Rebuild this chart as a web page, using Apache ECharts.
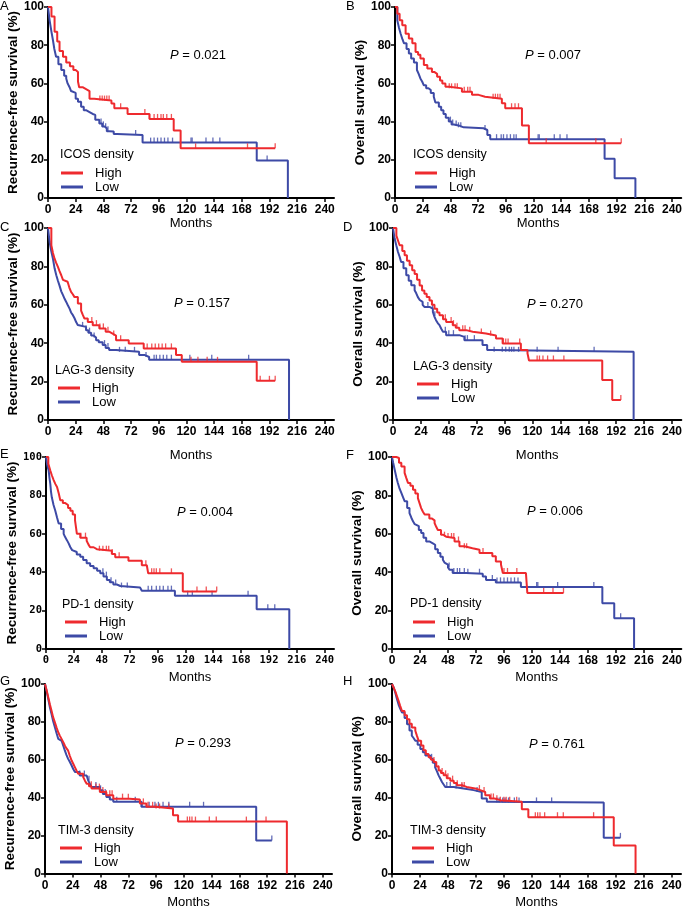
<!DOCTYPE html>
<html><head><meta charset="utf-8">
<script src="https://cdn.jsdelivr.net/npm/echarts@6/dist/echarts.min.js"></script>
<style>html,body{margin:0;padding:0;background:#fff}#c{width:685px;height:910px}</style>
</head><body><div id="c"></div>
<script>
// ---------- DATA ----------
const xTicks = [0, 24, 48, 72, 96, 120, 144, 168, 192, 216, 240];
const yTicks = [0, 20, 40, 60, 80, 100];
const panelLetters = ['A', 'B', 'C', 'D', 'E', 'F', 'G', 'H'];
const markers = ['ICOS', 'ICOS', 'LAG-3', 'LAG-3', 'PD-1', 'PD-1', 'TIM-3', 'TIM-3'];
const yTitles = ['Recurrence-free survival (%)', 'Overall survival (%)'];
const pValues = ['0.021', '0.007', '0.157', '0.270', '0.004', '0.006', '0.293', '0.761'];
const groups = ['High', 'Low'];

// Kaplan-Meier steps: [month, survival % after the step]
const A_high = [[0,100],[3,95],[5.7,87],[8,82],[10,77],[13,74],[15.8,71],[19,69],[22,67],[24,66],[26,61],[27,58],[30,57],[33,56],[36,52],[40,51],[55,49.5],[57.5,47],[69,44],[88,41.4],[109,35.3],[115,26],[197,26]];
const A_low = [[0,100],[1.4,93],[3,87],[4.3,82.6],[5.5,78],[7,74],[9,70],[11.5,67],[14,64],[15.8,62.6],[17,60],[18.7,58],[20,56],[21.6,55],[24,52],[26,50.4],[28.7,47.8],[31,46],[33,45],[36,44],[38.8,43.5],[41,41],[44.5,39],[47,37.5],[49,36.5],[51,35],[53,34.8],[57,33.5],[60,33],[82,29],[181,19.6],[208,0]];
const B_high = [[0,100],[2,96.5],[4,93],[6.3,90.4],[9.2,86],[12,83.5],[15,81],[17.8,76.5],[20,75],[22,73],[25,69.6],[28,67.8],[32,66],[34,65],[36.5,63.5],[39,61.5],[41,60],[43.7,58.3],[47,57.4],[58,55.6],[66.7,54],[72.4,53],[78,52],[92.6,49.6],[95.5,47],[110,38],[116,28.7],[196,28.7]];
const B_low = [[0,100],[2,93],[3.5,89],[4.9,86],[6.5,83],[7.8,81],[10,78],[12,75.6],[14,73],[16.4,71],[19,67],[20.5,65],[22,62.6],[23.5,61],[25,59],[27,57.5],[29,56.5],[31,55],[33.6,53],[35,50],[38,47.8],[40,46],[42,44],[44,42],[46.6,40],[49,38.5],[51,38],[55,37],[59.5,36.5],[76.7,35.6],[80,33],[82.5,30.8],[181.6,20.5],[190.3,10.4],[208.3,0]];
const C_high = [[0,100],[2.9,91],[4.3,87],[5.7,84],[7,82],[8.6,79.7],[10,77.5],[11.5,75.4],[13,73],[14.4,72],[17,71],[18.5,69],[20,66.7],[21.5,65.5],[23,64],[25.9,60.7],[28.7,57],[30,55],[31.6,52.8],[34.5,51],[38.8,49.4],[44.5,47.7],[50,46],[53,45],[56,44],[59,41.6],[70,39.9],[83,37.3],[111,33.8],[116,30.3],[181,20.4],[197,20.4]];
const C_low = [[0,100],[1.4,92.7],[2.8,88],[4.3,84],[5.7,79],[7.2,75.4],[8.6,72.5],[10,70],[11.5,67],[13,65],[14.5,63],[15.8,61.5],[17,60],[18.7,58],[20,56],[21.6,54.6],[23,53],[24.4,51],[25.8,49.5],[27.3,48.5],[33,46.8],[35,45.5],[37.4,44],[39.5,43],[41.7,41.6],[44,40.5],[47.4,39],[50,37.5],[53,36.4],[59,35.5],[79,33.8],[84,32.8],[87.7,31.4],[209,0]];
const D_high = [[0,100],[2.9,96],[4.3,93.5],[5.7,91],[8,88],[10,85.8],[12,83],[14.3,80.6],[16.5,78],[18.6,76],[20.7,73],[22.9,70],[25,67.5],[27,65.7],[29,64],[31.4,62.2],[33.5,60],[35.7,58],[38,56],[40,54.6],[43,52.5],[45.7,51],[51.4,49.4],[54,48],[57,46.8],[63,46],[68.6,45],[80,44],[88.6,42.4],[94.3,39.9],[110,36.4],[115.7,34.7],[117,31],[180,20.8],[188.6,10.4],[196,10.4]];
const D_low = [[0,100],[1.4,94.5],[2.8,91],[4.3,87.5],[5.7,85],[7,82.3],[9,79],[11.4,75.4],[13.5,72.5],[15.7,70.2],[18.6,67.6],[20,66],[21.4,64],[23,62.5],[24.3,61.5],[25.5,60],[27,58.9],[31.4,58],[34.3,56.3],[35.5,54],[37,52],[38.5,50.5],[40,49.4],[41.5,47.5],[43,46],[45.7,44.2],[57,43.3],[61.4,41.6],[77,39],[81,36.4],[85.7,35.5],[207,0]];
const E_high = [[0,100],[2,96.5],[3.7,93],[5,90.5],[6.6,88],[8,86],[9.5,84.4],[11,81],[12.3,77.5],[14.5,76],[16.6,75],[19,73.5],[21,72],[23,70],[25,67],[26.6,60],[29.5,58],[35,56.4],[36.5,54.5],[38,53],[41,52],[43.8,51.2],[56.7,49.5],[59.6,47.8],[71,46],[82.5,43.6],[86.8,42.6],[88,39.4],[117.8,30],[147,30]];
const E_low = [[0,100],[1,96],[2.3,93],[3,89],[3.7,86],[4.3,82],[5,79],[6.5,75],[8,72],[9.5,68.5],[10.9,65.4],[13,62.5],[15.2,60],[16.5,58.3],[18,56.7],[19.5,55],[21,53],[22.5,51.5],[23.8,50.5],[26.5,49.2],[29.5,48],[32,46.3],[35,44.6],[38,43.2],[41,42],[44,40.7],[46.7,39.4],[49.5,37.7],[52.4,36],[55,34.8],[58,33.6],[61,32.8],[64,32],[81,31.5],[82.5,30.4],[111,27.7],[181.4,20.7],[209.5,0]];
const F_high = [[0,100],[3.7,99.5],[6,97],[8,95],[10.8,91.7],[12.3,89],[13.7,86.5],[15.8,85],[18,83],[20,81],[22.2,78.6],[23.6,76],[25,73.4],[26.5,71.5],[28,70],[32,68],[34,67],[36.5,65.6],[38,63.5],[39.3,62],[42,59.5],[44,58.5],[46.4,57.8],[53.6,56],[57.8,53.5],[62,52.5],[69,51.7],[75,50],[86,48.3],[89,45.6],[93.4,44],[95,39.6],[114.8,39.2],[116,29.2],[147,29.2]];
const F_low = [[0,100],[1,97],[2.3,93.4],[3.7,89.5],[5,86.5],[6.5,83.5],[8,81.3],[9.5,79],[10.8,77],[13,73.5],[15,70.8],[16.5,68.5],[18,66.5],[19.5,65],[20.8,64],[23,62],[25,60.4],[27,58],[29.3,56],[32,55],[35,54.3],[37,52],[39.3,50],[41.5,48],[43.6,46.5],[45,45],[46.4,44],[48,42.5],[49.3,41.3],[52,39.6],[63.5,39.2],[77.8,37.8],[80.6,36],[89,34.7],[110.5,32.3],[180.3,23.8],[190.5,16],[207.5,0]];
const G_high = [[0,100],[1.5,96.5],[2.9,92.7],[4.3,89],[5.7,85.7],[7,82.5],[8.6,79.6],[10,77],[11.5,74.4],[13,72.5],[14.4,70.9],[16,69],[17.2,67.4],[18.6,66],[20,64.8],[21.5,62],[23,59.6],[24.5,57.8],[25.9,56],[27.3,54.2],[28.7,52.6],[33,50.9],[34.5,49],[36,47.4],[38,46],[40.2,44.8],[47.4,43],[53,41.3],[59,39.5],[73,39],[82,37],[87.6,35.2],[95,34.3],[110.6,30.8],[115,27.4],[209,0]];
const G_low = [[0,100],[1.5,96],[2.9,91.8],[4.3,87.5],[5.7,84],[7,80.5],[8.6,77],[10,74],[11.5,71],[13,70],[14.4,69],[16,67],[17.2,64.8],[18.6,62.5],[20,60.5],[21.5,58.8],[23,57],[24.5,55],[25.9,53.5],[30,51.7],[36,50.9],[37.4,49],[38.8,47.3],[40.2,45.6],[47.4,43.9],[50,42],[53,40.4],[56,39],[59,37.8],[83.3,35.2],[182.5,17.4],[196,17.4]];
const H_high = [[0,100],[1.5,98],[2.9,96],[4.3,93.5],[5.7,91],[7,88.5],[8.6,85.7],[10.8,83.5],[12.9,81.4],[15,79],[17,77],[20,75.3],[21.5,72.5],[22.9,70],[25,67.5],[27,65],[29,63],[31.4,61.4],[33.5,60],[35.7,58.8],[38,56.5],[40,54.4],[42,53],[44.3,51.8],[47,50.3],[50,49],[53,47.8],[55.7,46.6],[60,45.7],[64,44.9],[71.4,44],[75.7,43],[80,41.3],[84,39.6],[88,38.7],[93,37.9],[111.4,33.9],[117,29.7],[190.3,14.8],[209,0]];
const H_low = [[0,100],[1.5,98],[2.9,95.3],[4.3,92],[5.7,89],[7,87],[8.6,84.9],[10.8,82],[12.9,78.8],[15,75.5],[17,72.7],[18.5,71.5],[20,70],[22,68],[24.3,65.7],[26.5,64],[28.6,62.3],[32.9,60.5],[35,58.5],[37,56],[38.5,54],[40,51.8],[41.5,50],[42.9,48.3],[44.3,47],[45.7,45.7],[52.9,44.9],[61.4,44],[70,43],[77,39.6],[81.4,37.9],[84,37.5],[181.7,18.8],[196,18.8]];

// censoring times (months)
const A_high_cens = [45,47,49,51,53,63,84,88,92,95,98,100,103,107,128,173,197];
const A_low_cens = [46,48,50,52,76,89,92,95,98,101,104,108,124,125,137,143,149,190];
const B_high_cens = [47,49,52,54,60,63,65,85,87,89,91,101,104,107,131,174,196];
const B_low_cens = [48,50,53,55,57,78,88,92,94,97,100,103,105,124,125,138,143,149];
const C_high_cens = [38,42,45,48,52,57,63,86,90,93,96,99,102,107,124,130,138,147,184,192,197];
const C_low_cens = [30,33,36,40,49,52,62,67,75,85,92,94,97,100,103,107,123,142,174];
const D_high_cens = [45,50,52,55,60,62,66,76,84,95,97,99,109,124,126,129,133,138,147,196];
const D_low_cens = [30,34,36,45,48,52,62,64,70,87,94,97,100,102,104,108,124,142,173];
const E_high_cens = [30,34,46,49,52,54,57,63,86,91,93,95,98,108,130,138,147];
const E_low_cens = [49,52,56,60,65,70,88,91,95,98,101,105,108,122,126,143,174,191,197];
const F_high_cens = [45,48,51,53,57,62,64,78,96,99,107,130,138,147];
const F_low_cens = [49,53,56,58,62,65,75,86,90,93,96,99,102,105,108,124,125,142,173,196];
const G_high_cens = [40,44,47,50,53,56,58,67,72,85,89,93,96,99,107,123,125,127,130,142,148,174,191];
const G_low_cens = [30,34,38,44,48,52,56,62,78,84,90,95,98,102,107,125,137,196];
const H_high_cens = [36,40,43,46,48,52,56,60,62,75,79,85,87,90,93,96,98,101,107,123,125,127,131,142,147,173];
const H_low_cens = [34,47,50,55,60,73,90,92,95,97,100,105,109,124,137,196];

const curves = [
  [A_high, A_low], [B_high, B_low], [C_high, C_low], [D_high, D_low],
  [E_high, E_low], [F_high, F_low], [G_high, G_low], [H_high, H_low]
];
const censors = [
  [A_high_cens, A_low_cens], [B_high_cens, B_low_cens], [C_high_cens, C_low_cens], [D_high_cens, D_low_cens],
  [E_high_cens, E_low_cens], [F_high_cens, F_low_cens], [G_high_cens, G_low_cens], [H_high_cens, H_low_cens]
];

// ---------- LAYOUT / STYLE ----------
const RED = '#ee2a2e', BLUE = '#3d4aa6';
const XMAX = 248;
const L = [
  {l:48, t:7,   w:286, h:191, xg:18.5, yg:25.5, p:[198,55],  lab:[0,8],    lt:[60,155],  lg:[61,166]},
  {l:395,t:7,   w:287, h:191, xg:18.5, yg:23,   p:[553,55],  lab:[346,8],  lt:[413,155], lg:[415,166]},
  {l:48, t:228, w:286, h:192, xg:28.5, yg:25.5, p:[202,303], lab:[0,229],  lt:[55,371],  lg:[58,381]},
  {l:393,t:228, w:289, h:192, xg:28.5, yg:23,   p:[555,304], lab:[343,229],lt:[413,367], lg:[417,377]},
  {l:46, t:457, w:288, h:192, xg:21.5, yg:21,   p:[205,512], lab:[0,456],  lt:[62,605],  lg:[65,615]},
  {l:392,t:457, w:290, h:192, xg:21.5, yg:22,   p:[555,511], lab:[346,457],lt:[410,604], lg:[413,615]},
  {l:45, t:684, w:287, h:192, xg:22.5, yg:22.5, p:[203,743], lab:[0,683],  lt:[58,831],  lg:[60,841]},
  {l:392,t:684, w:289, h:192, xg:22.5, yg:22,   p:[557,744], lab:[343,683],lt:[410,831], lg:[412,841]}
];
const FONT = 'Liberation Sans, Arial, sans-serif';

function survAt(curve, t) {
  let s = curve[0][1];
  for (const [ti, si] of curve) { if (ti <= t) s = si; else break; }
  return s;
}

const grids = [], xAxes = [], yAxes = [], series = [], legends = [], graphics = [];
L.forEach((g, i) => {
  const isE = i === 4;
  const tickFont = isE
    ? {fontFamily: 'DejaVu Sans Mono, monospace', fontSize: 10.5, fontWeight: 'bold'}
    : {fontFamily: FONT, fontSize: 12, fontWeight: 'bold'};
  grids.push({left: g.l, top: g.t, width: g.w, height: g.h, containLabel: false});
  xAxes.push({
    type: 'value', gridIndex: i, min: 0, max: XMAX, interval: 24,
    name: 'Months', nameLocation: 'middle', nameGap: g.xg,
    nameTextStyle: {fontFamily: FONT, fontSize: 13, color: '#000'},
    axisLine: {show: true, onZero: false, lineStyle: {color: '#000', width: 2}},
    axisTick: {show: true, length: 4, lineStyle: {color: '#000', width: 1.5}, customValues: xTicks},
    axisLabel: Object.assign({color: '#000', margin: 6, customValues: xTicks}, tickFont),
    splitLine: {show: false}
  });
  yAxes.push({
    type: 'value', gridIndex: i, min: 0, max: 100, interval: 20,
    name: yTitles[i % 2], nameLocation: 'middle', nameGap: g.yg, nameRotate: 90,
    nameTextStyle: {fontFamily: FONT, fontSize: 13.5, fontWeight: 'bold', color: '#000'},
    axisLine: {show: true, onZero: false, lineStyle: {color: '#000', width: 2}},
    axisTick: {show: true, length: 4, lineStyle: {color: '#000', width: 1.5}, customValues: yTicks},
    axisLabel: Object.assign({color: '#000', margin: 4, customValues: yTicks}, tickFont),
    splitLine: {show: false}
  });
  // low first, high on top
  [1, 0].forEach(k => {
    const col = k === 0 ? RED : BLUE;
    series.push({
      name: groups[k], type: 'line', xAxisIndex: i, yAxisIndex: i, step: 'end',
      data: curves[i][k], symbol: 'none', clip: false, animation: false,
      lineStyle: {color: col, width: 2}, itemStyle: {color: col}, z: 3 + (1 - k)
    });
    series.push({
      name: groups[k], type: 'scatter', xAxisIndex: i, yAxisIndex: i,
      data: censors[i][k].map(t => [t, survAt(curves[i][k], t)]),
      symbol: 'rect', symbolSize: [1.3, 5], symbolOffset: [0, -2.5],
      itemStyle: {color: col}, animation: false, silent: true, z: 3 + (1 - k)
    });
  });
  legends.push({
    orient: 'vertical', left: g.lg[0], top: g.lg[1], padding: 0, itemGap: 0,
    itemWidth: 22, itemHeight: 3, icon: 'rect', selectedMode: false,
    data: groups.map(n => ({name: n, itemStyle: {color: n === 'High' ? RED : BLUE}})),
    textStyle: {fontFamily: FONT, fontSize: 13, color: '#000', lineHeight: 14, padding: [0, 0, 0, 7]}
  });
  graphics.push({
    type: 'text', left: g.lab[0], top: g.lab[1] - 8,
    style: {text: panelLetters[i], font: '13px ' + FONT, fill: '#000'}
  });
  graphics.push({
    type: 'text', x: g.lt[0], y: g.lt[1],
    style: {text: markers[i] + ' density', font: '12.5px ' + FONT, fill: '#000', verticalAlign: 'middle', align: 'left'}
  });
  graphics.push({
    type: 'text', x: g.p[0], y: g.p[1],
    style: {
      text: '{i|P} = ' + pValues[i], align: 'center', verticalAlign: 'middle',
      font: '13px ' + FONT, fill: '#000',
      rich: {i: {fontStyle: 'italic', fontFamily: FONT, fontSize: 13, fill: '#000'}}
    }
  });
});

const chart = echarts.init(document.getElementById('c'), null, {renderer: 'canvas'});
chart.setOption({
  animation: false, backgroundColor: '#fff',
  grid: grids, xAxis: xAxes, yAxis: yAxes, series: series, legend: legends, graphic: graphics
});
</script></body></html>
